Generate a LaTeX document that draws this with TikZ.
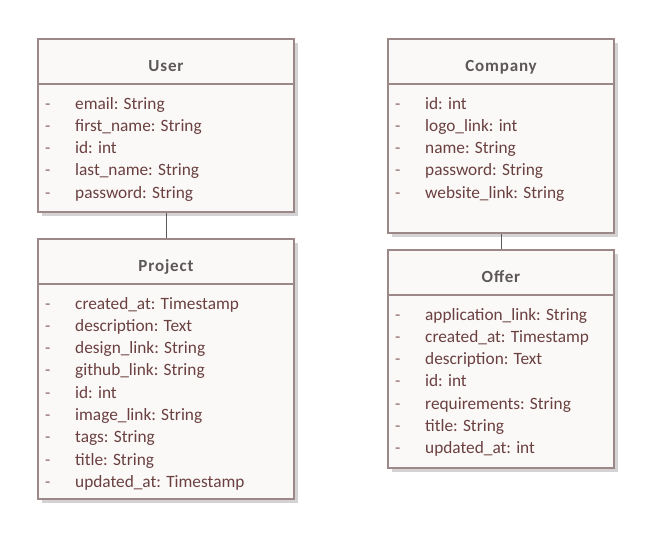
\documentclass[tikz,border=0pt]{standalone}
\usepackage{fontspec}
\setmainfont{Carlito}
\newfontfamily\titlefont{Carlito}[LetterSpace=5]
\usetikzlibrary{calc,shadows}

\definecolor{boxedge}{HTML}{9C8888}
\definecolor{boxfill}{HTML}{FBF9F7}
\definecolor{boxshadow}{HTML}{D4D2D2}
\definecolor{titleink}{HTML}{5C5858}
\definecolor{attrink}{HTML}{6A4040}
\definecolor{linkink}{HTML}{5A5A5A}

% A UML class: #1 name, #2 x, #3 y (top left), #4 width, #5 height,
% #6 title, #7 list of attributes
\newcommand{\umlclass}[7]{%
  \node[classbox, minimum width=#4pt, minimum height=#5pt] (#1) at (#2,#3) {};
  \draw[divider] ($(#1.north west)+(1,46)$) -- ($(#1.north east)+(-1,46)$);
  \node[classtitle] (#1-title) at ($(#1.north)+(0,33)$) {#6};
  \foreach \attr [count=\k] in {#7} {
    \node[attrdash] (#1-dash-\k) at ($(#1.north west)+(8,71+22.3*\k-22.3)$) {-};
    \node[attrtext] (#1-attr-\k) at ($(#1.north west)+(38,71+22.3*\k-22.3)$) {\attr};
  }%
}

\begin{document}
\begin{tikzpicture}[x=1pt,y=-1pt,
  classbox/.style={draw=boxedge, line width=2pt, fill=boxfill, inner sep=0pt,
    anchor=north west,
    general shadow={fill=boxshadow, shadow xshift=4pt, shadow yshift=-4pt}},
  divider/.style={draw=boxedge, line width=1.4pt},
  classtitle/.style={anchor=base, inner sep=0pt, text=titleink,
    font=\titlefont\fontsize{17}{20}\selectfont\bfseries},
  attrdash/.style={anchor=base west, inner sep=0pt, text=attrink!80,
    font=\fontsize{17.3}{20}\selectfont},
  attrtext/.style={anchor=base west, inner sep=0pt, text=attrink,
    font=\fontsize{17.3}{20}\selectfont},
  link/.style={draw=linkink, line width=0.9pt}]

  \useasboundingbox[fill=white] (0,0) rectangle (664,535);

  \umlclass{user}{37}{38}{256}{173}{User}%
    {email: String, first\_name: String, id: int, last\_name: String, password: String}
  \umlclass{project}{37}{238}{256}{260}{Project}%
    {created\_at: Timestamp, description: Text, design\_link: String,
     github\_link: String, id: int, image\_link: String, tags: String,
     title: String, updated\_at: Timestamp}
  \umlclass{company}{387}{38}{226}{194}{Company}%
    {id: int, logo\_link: int, name: String, password: String, website\_link: String}
  \umlclass{offer}{387}{249}{226}{218}{Offer}%
    {application\_link: String, created\_at: Timestamp, description: Text,
     id: int, requirements: String, title: String, updated\_at: int}

  \draw[link] (user.south) -- (project.north);
  \draw[link] (company.south) -- (offer.north);
\end{tikzpicture}
\end{document}
